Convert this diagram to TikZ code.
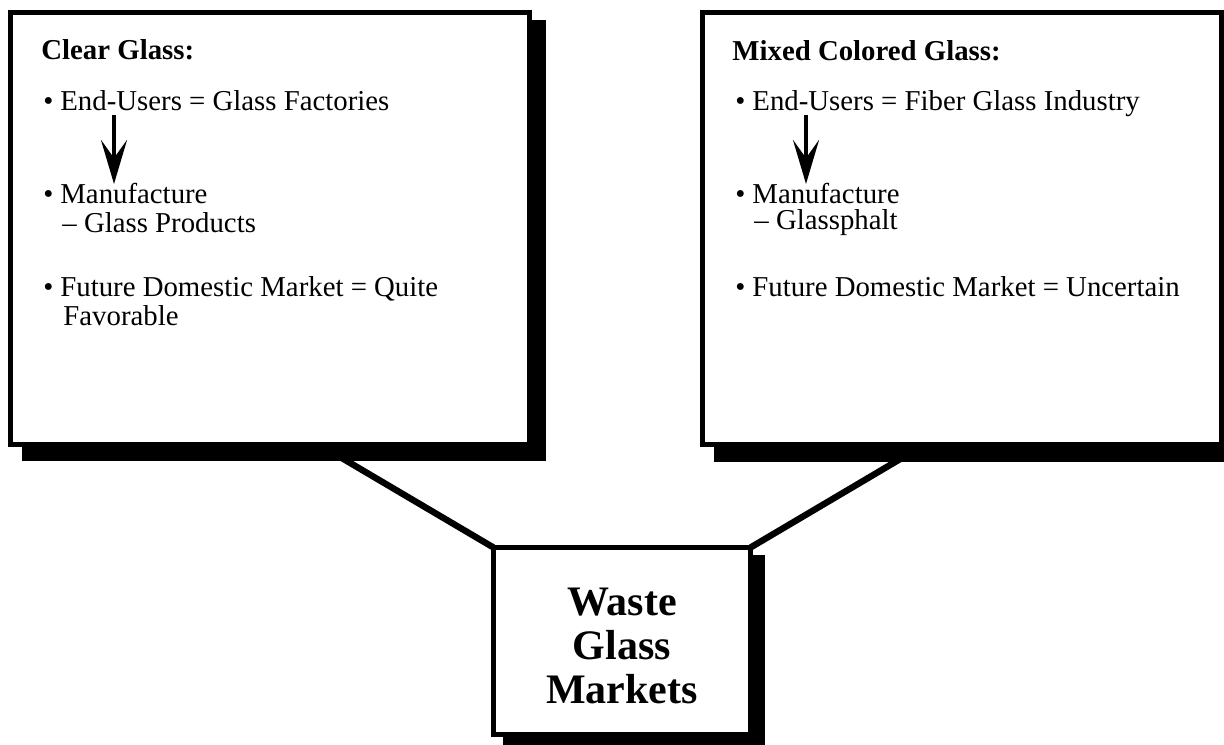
\documentclass[tikz,border=0pt]{standalone}
\usepackage{fontspec}
\setmainfont{Liberation Serif}
\usetikzlibrary{calc,arrows.meta,backgrounds}

% bullet followed by a fixed gap before the item text
\newcommand\bul{\makebox[8.5pt][l]{\textbullet}}

\begin{document}
\begin{tikzpicture}[x=0.5pt,y=-0.5pt,
  panel/.style={draw=black, fill=white, line width=2.5pt, rectangle,
                inner sep=0pt, outer sep=0pt},
  bigpanel/.style={panel, minimum width=259.5pt, minimum height=216pt},
  shade/.style={fill=black},
  link/.style={draw=black, line width=3.2pt},
  item/.style={anchor=base west, inner sep=0pt, font=\fontsize{14.4}{16}\selectfont},
  head/.style={item, font=\fontsize{14.4}{16}\selectfont\bfseries},
  flow/.style={draw=black, line width=2.4pt,
               -{Stealth[length=22pt, width=13pt, inset=9pt]}}
]
\useasboundingbox (0,0) rectangle (1224,744);

% the three panels
\node[bigpanel] (clear) at (270,228.5) {};
\node[bigpanel] (mixed) at (962,228.5) {};
\node[panel, minimum width=128.5pt, minimum height=93.5pt] (waste) at (622,641) {};
\node[align=center, inner sep=0pt, font=\fontsize{21}{22}\selectfont\bfseries]
      (wastetxt) at ($(waste.center)+(0,5)$) {Waste\\Glass\\Markets};

% drop shadows and connectors behind the panels
\begin{scope}[on background layer]
  \fill[shade] ($(clear.north west)+(11.5,7.5)$) rectangle ($(clear.south east)+(16.5,16.5)$);
  \fill[shade] ($(mixed.north west)+(11.5,7.5)$) rectangle ($(mixed.south east)+(16.5,17.5)$);
  \fill[shade] ($(waste.north west)+(9.5,7.5)$) rectangle ($(waste.south east)+(14.5,13.5)$);
  \coordinate (lfoot) at (335,454);
  \coordinate (rfoot) at (907,455);
  \draw[link] (lfoot) -- (waste.north west);
  \draw[link] (rfoot) -- (waste.north east);
\end{scope}

% clear glass panel text
\node[head] (chead) at (41,59) {Clear Glass:};
\node[item] (ceu)  at (43,110) {\bul End-Users = Glass Factories};
\node[item] (cmf)  at (43,203) {\bul Manufacture};
\node[item] (cgp)  at (62,232) {-- Glass Products};
\node[item] (cfd)  at (43,296) {\bul Future Domestic Market = Quite};
\node[item] (cfv)  at (63,325) {Favorable};
\draw[flow] ($(ceu.base west)+(71,5)$) -- ($(cmf.base west)+(71,-19)$);

% mixed colored glass panel text
\node[head] (mhead) at (732,60) {Mixed Colored Glass:};
\node[item] (meu)  at (735,110) {\bul End-Users = Fiber Glass Industry};
\node[item] (mmf)  at (735,203) {\bul Manufacture};
\node[item] (mgp)  at (754,229) {-- Glassphalt};
\node[item] (mfd)  at (735,296) {\bul Future Domestic Market = Uncertain};
\draw[flow] ($(meu.base west)+(71,5)$) -- ($(mmf.base west)+(71,-19)$);
\end{tikzpicture}
\end{document}
